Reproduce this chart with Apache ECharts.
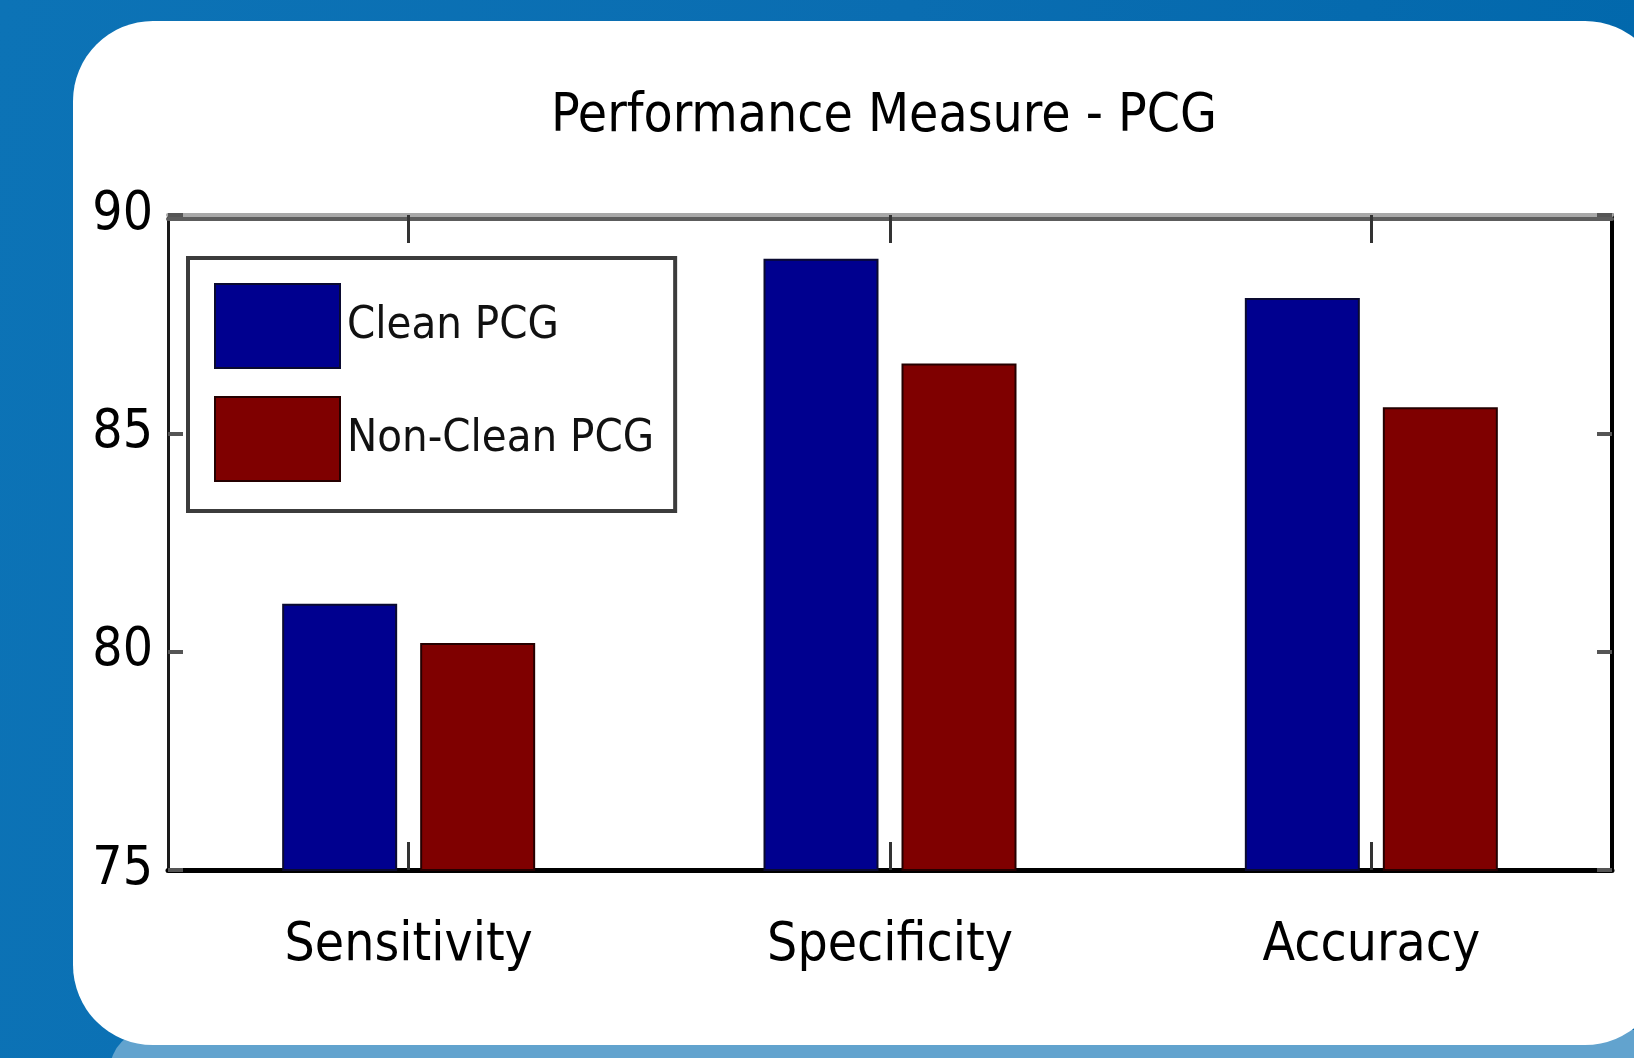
<!DOCTYPE html>
<html>
<head>
    <meta charset="utf-8">
    <title>Performance Measure - PCG</title>
    <script src="https://cdn.jsdelivr.net/npm/echarts@6/dist/echarts.min.js"></script>
    <style>
        html, body { margin: 0; padding: 0; }
        body {
            width: 1634px; height: 1058px; overflow: hidden; position: relative;
            background: linear-gradient(100deg, #0c73b6 0%, #0a6db1 50%, #0067ab 100%);
        }
        #band {
            position: absolute; left: 110px; top: 1030px; width: 1600px; height: 80px;
            background: #62a3ce; border-radius: 60px;
        }
        #panel {
            position: absolute; left: 73px; top: 21px; width: 1592px; height: 1024px;
            background: #fff; border-radius: 80px;
        }
        #main { position: absolute; left: 0; top: 0; width: 1634px; height: 1058px; }
    </style>
</head>
<body>
<div id="band"></div>
<div id="panel"></div>
<div id="main"></div>
<script type="text/javascript">
    // data
    var categories = ['Sensitivity', 'Specificity', 'Accuracy'];
    var cleanPCG = [81.1, 89.0, 88.1];
    var nonCleanPCG = [80.2, 86.6, 85.6];
    var yTicks = [75, 80, 85, 90];

    var narrow = "'Liberation Sans Narrow', 'DejaVu Sans Condensed', 'Arial Narrow', sans-serif";

    var myChart = echarts.init(document.getElementById('main'));
    var option = {
        backgroundColor: 'transparent',
        animation: false,
        textStyle: { fontFamily: narrow, color: '#000' },
        title: {
            text: 'Performance Measure - PCG',
            left: 884,
            top: 91,
            textAlign: 'center',
            padding: 0,
            textStyle: { fontFamily: narrow, fontSize: 53, fontWeight: 'normal', color: '#000' }
        },
        legend: {
            orient: 'vertical',
            left: 188,
            top: 258,
            padding: [25, 21, 29, 26],
            itemWidth: 125,
            itemHeight: 84,
            itemGap: 27,
            icon: 'rect',
            backgroundColor: '#fff',
            borderColor: '#3c3c3c',
            borderWidth: 4,
            textStyle: { fontFamily: narrow, fontSize: 45, color: '#111', padding: [0, 0, 0, 2] },
            data: ['Clean PCG', 'Non-Clean PCG']
        },
        grid: { left: 168, right: 22, top: 215, bottom: 188 },
        xAxis: [{
            type: 'category',
            data: categories,
            position: 'bottom',
            axisLine: { show: true, lineStyle: { color: '#000', width: 5 } },
            axisTick: { show: true, inside: true, alignWithLabel: true, length: 28,
                lineStyle: { color: '#333', width: 3 } },
            axisLabel: { fontFamily: narrow, fontSize: 53, color: '#000', margin: 50 }
        }, {
            type: 'category',
            data: categories,
            position: 'top',
            axisLine: { show: true, lineStyle: { color: '#a8a8a8', width: 4,
                shadowColor: '#5c5c5c', shadowOffsetY: 4, shadowBlur: 0 } },
            axisTick: { show: true, inside: true, alignWithLabel: true, length: 28,
                lineStyle: { color: '#333', width: 3 } },
            axisLabel: { show: false }
        }],
        yAxis: [{
            type: 'value',
            min: yTicks[0],
            max: yTicks[yTicks.length - 1],
            interval: yTicks[1] - yTicks[0],
            position: 'left',
            axisLine: { show: true, lineStyle: { color: '#1a1a1a', width: 3 } },
            axisTick: { show: true, inside: true, length: 15, lineStyle: { color: '#555', width: 4 } },
            splitLine: { show: false },
            axisLabel: { fontFamily: narrow, fontSize: 53, color: '#000', margin: 15 }
        }, {
            type: 'value',
            min: yTicks[0],
            max: yTicks[yTicks.length - 1],
            interval: yTicks[1] - yTicks[0],
            position: 'right',
            axisLine: { show: true, lineStyle: { color: '#000', width: 4 } },
            axisTick: { show: true, inside: true, length: 15, lineStyle: { color: '#555', width: 4 } },
            splitLine: { show: false },
            axisLabel: { show: false }
        }],
        series: [{
            name: 'Clean PCG',
            type: 'bar',
            data: cleanPCG,
            barWidth: 115,
            barGap: '20%',
            itemStyle: { color: '#00008f', borderColor: '#0a0a30', borderWidth: 2 }
        }, {
            name: 'Non-Clean PCG',
            type: 'bar',
            data: nonCleanPCG,
            barWidth: 115,
            barGap: '20%',
            itemStyle: { color: '#7f0000', borderColor: '#250000', borderWidth: 2 }
        }]
    };
    myChart.setOption(option);
</script>
</body>
</html>
